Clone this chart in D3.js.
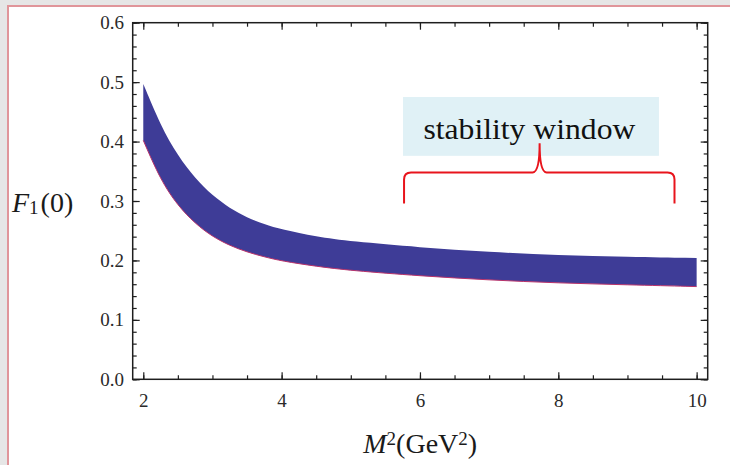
<!DOCTYPE html>
<html>
<head>
<meta charset="utf-8">
<script src="https://cdn.jsdelivr.net/npm/d3@7"></script>
<style>
  body { margin: 0; background: #e6e6e6; }
  svg { display: block; }
  .tick text { font-family: "Liberation Serif", "Times New Roman", serif; font-size: 19px; fill: #2a2a2a; }
  .tick line { stroke: #1e1e1e; stroke-width: 1.2; }
  .domain { display: none; }
</style>
</head>
<body>
<div id="canvas"></div>
<script>
// M^2 grid (GeV^2) and the two edges of the band
const mSq    = [2, 2.25, 2.5, 2.75, 3, 3.25, 3.5, 3.75, 4, 4.5, 5, 6, 7, 8, 9, 10];
const lowerF = [0.402, 0.335, 0.292, 0.262, 0.240, 0.225, 0.214, 0.206, 0.199, 0.190, 0.183, 0.174, 0.167, 0.162, 0.159, 0.156];
const upperF = [0.497, 0.427, 0.376, 0.338, 0.309, 0.288, 0.272, 0.261, 0.252, 0.240, 0.232, 0.222, 0.214, 0.209, 0.206, 0.204];

const xTicks = [2, 4, 6, 8, 10];
const xMinor = d3.range(2, 10.01, 0.5);
const yTicks = [0, 0.1, 0.2, 0.3, 0.4, 0.5, 0.6];
const yMinor = d3.range(0, 0.601, 0.02);

// annotation: window on the M^2 axis and label
const windowText = "stability window";
const windowRange = [5.77, 9.68];
const windowTip = 7.73;

const W = 730, H = 465;

const svg = d3.select("#canvas")
  .append("svg")
    .attr("width", W)
    .attr("height", H);

// page frame: white panel with pink top/left border
svg.append("rect").attr("x", 0).attr("y", 0).attr("width", W).attr("height", H).attr("fill", "#e6e6e6");
svg.append("rect").attr("x", 7).attr("y", 5).attr("width", W - 7).attr("height", H - 5).attr("fill", "#e0959a");
svg.append("rect").attr("x", 9).attr("y", 7).attr("width", W - 9).attr("height", H - 7).attr("fill", "#ffffff");

const x = d3.scaleLinear()
    .domain([1.847, 10.16])
    .range([132.7, 707.7]);

const y = d3.scaleLinear()
    .domain([0, 0.6])
    .range([379.3, 22.7]);

const band = mSq.map(function(m, i) { return {m: m, lo: lowerF[i], hi: upperF[i]}; });

// the band
svg.append("path")
    .datum(band)
    .attr("fill", "#3e3c97")
    .attr("d", d3.area()
      .x(function(d) { return x(d.m); })
      .y0(function(d) { return y(d.lo); })
      .y1(function(d) { return y(d.hi); })
      .curve(d3.curveBasis));

// thin reddish lower edge
svg.append("path")
    .datum(band)
    .attr("fill", "none")
    .attr("stroke", "#b8326a")
    .attr("stroke-width", 1)
    .attr("d", d3.line()
      .x(function(d) { return x(d.m); })
      .y(function(d) { return y(d.lo); })
      .curve(d3.curveBasis));

// frame axes, ticks pointing inward
const x0 = x.range()[0], x1 = x.range()[1];
const y0 = y.range()[0], y1 = y.range()[1];

svg.append("g").attr("transform", "translate(0," + y0 + ")")
    .call(d3.axisBottom(x).tickValues(xTicks).tickSize(-7).tickPadding(14).tickFormat(d3.format("d")));
svg.append("g").attr("transform", "translate(0," + y0 + ")")
    .call(d3.axisBottom(x).tickValues(xMinor).tickSize(-4).tickFormat(""));
svg.append("g").attr("transform", "translate(0," + y1 + ")")
    .call(d3.axisTop(x).tickValues(xTicks).tickSize(-7).tickFormat(""));
svg.append("g").attr("transform", "translate(0," + y1 + ")")
    .call(d3.axisTop(x).tickValues(xMinor).tickSize(-4).tickFormat(""));

svg.append("g").attr("transform", "translate(" + x0 + ",0)")
    .call(d3.axisLeft(y).tickValues(yTicks).tickSize(-7).tickPadding(8.7).tickFormat(d3.format(".1f")));
svg.append("g").attr("transform", "translate(" + x0 + ",0)")
    .call(d3.axisLeft(y).tickValues(yMinor).tickSize(-4).tickFormat(""));
svg.append("g").attr("transform", "translate(" + x1 + ",0)")
    .call(d3.axisRight(y).tickValues(yTicks).tickSize(-7).tickFormat(""));
svg.append("g").attr("transform", "translate(" + x1 + ",0)")
    .call(d3.axisRight(y).tickValues(yMinor).tickSize(-4).tickFormat(""));

svg.append("rect")
    .attr("x", x0).attr("y", y1)
    .attr("width", x1 - x0).attr("height", y0 - y1)
    .attr("fill", "none")
    .attr("stroke", "#1e1e1e")
    .attr("stroke-width", 1.5);

// axis titles
const serif = '"Liberation Serif", "Times New Roman", serif';

const yt = svg.append("text")
    .attr("x", 12).attr("y", 212)
    .attr("font-family", serif).attr("font-size", 28).attr("fill", "#1a1a1a");
yt.append("tspan").attr("font-style", "italic").text("F");
yt.append("tspan").attr("font-size", 19).attr("dy", 2).text("1");
yt.append("tspan").attr("dy", -2).attr("dx", 2).text("(0)");

const xt = svg.append("text")
    .attr("x", (x0 + x1) / 2).attr("y", 453)
    .attr("text-anchor", "middle")
    .attr("font-family", serif).attr("font-size", 28).attr("fill", "#1a1a1a");
xt.append("tspan").attr("font-style", "italic").text("M");
xt.append("tspan").attr("font-size", 19).attr("dy", -8).text("2");
xt.append("tspan").attr("dy", 8).text("(GeV");
xt.append("tspan").attr("font-size", 19).attr("dy", -8).text("2");
xt.append("tspan").attr("dy", 8).text(")");

// stability window label box
svg.append("rect")
    .attr("x", x(5.755)).attr("y", y(0.475))
    .attr("width", x(9.455) - x(5.755)).attr("height", y(0.376) - y(0.475))
    .attr("fill", "#e0f1f6");

svg.append("text")
    .attr("x", x(6.05)).attr("y", y(0.405))
    .attr("font-family", serif).attr("font-size", 29).attr("fill", "#111")
    .attr("textLength", 212).attr("lengthAdjust", "spacingAndGlyphs")
    .text(windowText);

// curly brace over the window
const bx0 = x(windowRange[0]), bx1 = x(windowRange[1]), bm = x(windowTip);
const yb = y(0.296), yh = y(0.348), ytip = y(0.397);
const r = 7;
const brace = d3.path();
brace.moveTo(bx0, yb);
brace.lineTo(bx0, yh + r);
brace.quadraticCurveTo(bx0, yh, bx0 + r, yh);
brace.lineTo(bm - r, yh);
brace.quadraticCurveTo(bm, yh, bm, ytip);
brace.quadraticCurveTo(bm, yh, bm + r, yh);
brace.lineTo(bx1 - r, yh);
brace.quadraticCurveTo(bx1, yh, bx1, yh + r);
brace.lineTo(bx1, yb);

svg.append("path")
    .attr("d", brace.toString())
    .attr("fill", "none")
    .attr("stroke", "#e8141c")
    .attr("stroke-width", 2);
</script>
</body>
</html>
